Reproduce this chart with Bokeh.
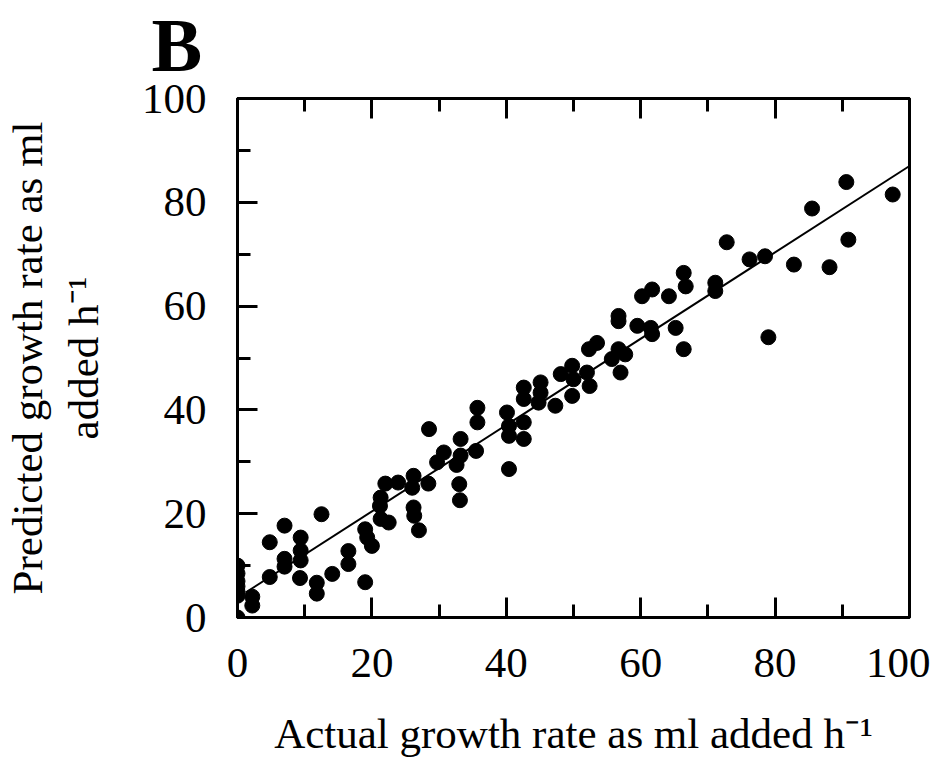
from bokeh.plotting import figure
from bokeh.models import LinearAxis, FixedTicker, Range1d
from bokeh.embed import file_html
from bokeh.resources import INLINE

# ---- data ----
actual = [0, 0, 0, 0, 0, 0, 0,
          2.2, 2.2, 4.8, 4.8, 7, 7, 7, 9.4, 9.4, 9.4, 9.3,
          12.5, 11.8, 11.8, 14.1, 16.5, 16.5, 19, 19, 19.3, 20,
          21.3, 21.2, 21.3, 22.5, 22.0, 23.9, 26.2, 26.0, 28.4,
          26.2, 26.3, 27.0, 28.5, 29.7, 30.7, 32.6, 33.2, 33.2, 33.0, 33.1,
          35.5, 35.7, 35.7, 40.4, 40.1, 40.4, 40.4, 42.6, 42.6,
          42.6, 42.6, 45.1, 45.1, 44.8, 47.3, 48.1, 49.8, 49.8,
          50.0, 52.0, 52.4, 52.3, 53.5, 55.7, 56.7, 57.7, 57.0,
          56.7, 56.7, 59.5, 61.5, 61.7, 60.2, 61.7, 64.2, 65.2,
          66.4, 66.7, 66.4, 71.1, 71.1, 72.8, 76.2, 78.5, 79.0,
          82.8, 85.5, 88.1, 90.6, 90.9, 97.5]
predicted = [0, 10, 8.5, 7, 6, 5, 4.2,
             4.0, 2.3, 7.8, 14.5, 17.7, 11.3, 9.8, 15.4, 12.9, 11.0, 7.6,
             19.9, 6.7, 4.6, 8.4, 12.8, 10.3, 6.8, 17.0, 15.4, 13.8,
             23.1, 21.5, 19.0, 18.3, 25.8, 26.0, 27.3, 25.0, 25.8,
             21.2, 19.6, 16.8, 36.3, 29.9, 31.8, 29.4, 31.2, 34.4, 25.7, 22.6,
             32.1, 40.4, 37.6, 28.6, 39.5, 36.9, 35.0, 37.6, 34.4,
             44.3, 42.1, 45.3, 43.3, 41.4, 40.8, 46.9, 42.7, 48.5,
             45.9, 47.2, 44.6, 51.7, 52.9, 49.8, 51.7, 50.7, 47.2,
             58.1, 57.1, 56.2, 55.8, 54.6, 61.9, 63.2, 61.9, 55.8,
             66.4, 63.8, 51.7, 64.5, 62.9, 72.3, 69.0, 69.6, 54.0,
             68.0, 78.8, 67.5, 83.9, 72.8, 81.5]
fit_x = [1.2, 100]
fit_y = [4.8, 87.0]
major_ticks = [0, 20, 40, 60, 80, 100]
minor_ticks = [10, 30, 50, 70, 90]

panel_letter = "B"
x_title = "Actual growth rate as ml added h\u207b\u00b9"
y_title = "Predicted growth rate as ml\nadded h\u207b\u00b9"

FONT = "Liberation Serif"

# layout (figure pixel coordinates)
W, H = 930, 762
FL, FR, FT, FB = 236, 909, 97, 617   # frame edges

p = figure(width=W, height=H,
           x_range=Range1d(0, 100), y_range=Range1d(0, 100),
           output_backend="svg", toolbar_location=None,
           x_axis_location=None, y_axis_location=None,
           min_border_left=FL, min_border_right=W - FR,
           min_border_top=FT, min_border_bottom=H - FB)
p.outline_line_color = "black"
p.outline_line_width = 3
p.xgrid.visible = False
p.ygrid.visible = False

p.title.text = panel_letter
p.title.text_font = FONT
p.title.text_font_size = "76px"
p.title.text_font_style = "bold"
p.title.text_color = "black"
p.title.align = "left"
p.title.offset = -86
p.title.standoff = 0


def make_axis(labels=True):
    ax = LinearAxis(ticker=FixedTicker(ticks=major_ticks, minor_ticks=minor_ticks),
                    axis_line_width=3, axis_line_color="black",
                    major_tick_in=20, major_tick_out=0,
                    minor_tick_in=13, minor_tick_out=0,
                    major_tick_line_width=3, minor_tick_line_width=3,
                    major_label_text_font=FONT,
                    major_label_text_font_size="43px",
                    major_label_text_color="black",
                    axis_label_text_font=FONT,
                    axis_label_text_font_size="43px",
                    axis_label_text_font_style="normal",
                    axis_label_text_color="black")
    if not labels:
        ax.major_label_overrides = {t: "" for t in major_ticks}
        ax.major_label_text_font_size = "1px"
    return ax


left = make_axis()
left.major_label_standoff = 31
left.axis_label = y_title
left.axis_label_standoff = 32
bottom = make_axis()
bottom.major_label_standoff = 31
bottom.axis_label = x_title
bottom.axis_label_standoff = 30
top = make_axis(labels=False)
top.major_label_standoff = 0
top.axis_label = "\u00a0"
top.axis_label_text_font_size = "1px"
top.axis_label_standoff = 8
p.add_layout(left, "left")
p.add_layout(bottom, "below")
p.add_layout(top, "above")

p.line(fit_x, fit_y, line_width=2, line_color="black")
p.scatter(actual, predicted, size=15, fill_color="black", line_color="black")

open("out.html", "w").write(file_html(p, INLINE))
